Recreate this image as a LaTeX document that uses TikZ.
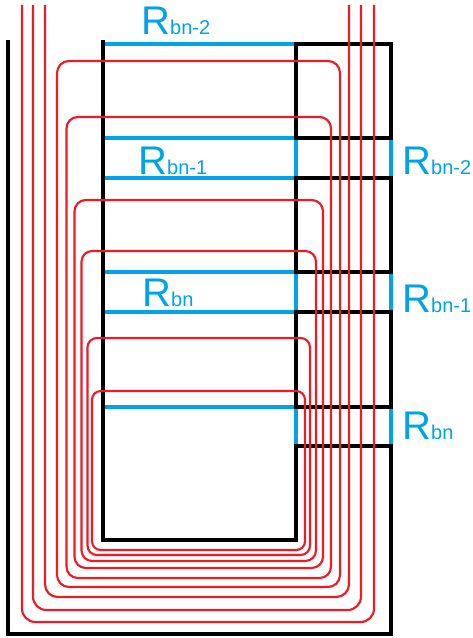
\documentclass[tikz,border=0pt]{standalone}
\usepackage{fontspec}
\setmainfont{Liberation Sans}
\definecolor{coilred}{HTML}{ED1C24}
\definecolor{gapblue}{HTML}{00A2E8}
\tikzset{
  core/.style={draw=black,line width=2.5pt,miter limit=10},
  gapline/.style={draw=gapblue,line width=2.6pt},
  coil/.style={draw=coilred,line width=1.6pt},
  rlabel/.style={text=gapblue,anchor=base west,inner sep=0pt,font=\fontsize{30}{31}\selectfont}
}
\newcommand{\rsub}[1]{R{\fontsize{15}{16}\selectfont #1}}
\begin{document}
\begin{tikzpicture}[x=0.75pt,y=-0.75pt]
\useasboundingbox[fill=white] (0,0) rectangle (473,638);
% air-gap lines
\foreach \yy in {44,138,178,272,312,407}{\path[gapline] (103,\yy) -- (296,\yy);}
\foreach \ya/\yb in {138/178,272/312,407/446}{
  \path[gapline] (296,\ya) -- (296,\yb);
  \path[gapline] (391,\ya) -- (391,\yb);
}
% core
\draw[core] (8,40) -- (8,634) -- (391,634) -- (391,446) -- (296,446) -- (296,540) -- (103,540) -- (103,40);
\draw[core] (296,138) -- (296,44) -- (391,44) -- (391,138) -- cycle;
\draw[core] (296,272) -- (296,178) -- (391,178) -- (391,272) -- cycle;
\draw[core] (296,407) -- (296,312) -- (391,312) -- (391,407) -- cycle;
% outer open windings
\foreach \xl/\xr/\yb/\rad in {22/374/622/10pt, 33/361/610/10pt, 45/349/597/9.5pt}{
  \path[coil,rounded corners=\rad] (\xl,5) -- (\xl,\yb) -- (\xr,\yb) -- (\xr,5);
}
% closed windings
\foreach \xl/\xr/\yt/\yb/\rad in {57/340/61/587/9pt, 66.5/331/117/578/8.5pt, 74.5/323/200/568/8.5pt, 81.5/316/251/561/8pt, 87.5/310/338/555/7pt, 92/305/391/550/6.5pt}{
  \path[coil,rounded corners=\rad] (\xl,\yt) -- (\xr,\yt) -- (\xr,\yb) -- (\xl,\yb) -- cycle;
}
% labels
\node[rlabel] (r1) at (141,35) {\rsub{bn-2}};
\node[rlabel] (r2) at (138,174) {\rsub{bn-1}};
\node[rlabel] (r3) at (142,306) {\rsub{bn}};
\node[rlabel] (r4) at (402,174) {\rsub{bn-2}};
\node[rlabel] (r5) at (402,312.5) {\rsub{bn-1}};
\node[rlabel] (r6) at (402,439) {\rsub{bn}};
\end{tikzpicture}
\end{document}
